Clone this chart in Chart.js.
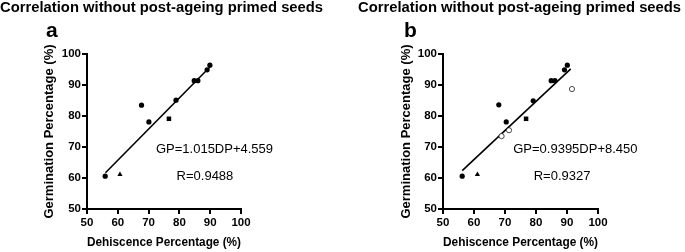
<!DOCTYPE html>
<html><head><meta charset="utf-8">
<script src="https://cdn.jsdelivr.net/npm/chart.js@4/dist/chart.umd.min.js"></script>
<style>
html,body{margin:0;padding:0;background:#fff;}
#wrap{position:relative;width:685px;height:252px;overflow:hidden;}
.panel{position:absolute;top:0;height:252px;}
</style></head><body>
<div id="wrap">
<div class="panel" style="left:0;width:342px"><canvas id="ca" width="342" height="252"></canvas></div>
<div class="panel" style="left:342px;width:343px"><canvas id="cb" width="343" height="252"></canvas></div>
</div>
<script>
// ---------- data ----------
const chartTitle = 'Correlation without post-ageing primed seeds';
const xAxisTitle = 'Dehiscence Percentage (%)';
const yAxisTitle = 'Germination Percentage (%)';
const tickMin = 50, tickMax = 100, tickStep = 10;

// Panel a
const aLetter = 'a';
const aCircleX = [55.9, 67.7, 70.1, 78.9, 84.8, 86.0, 89.0, 89.9];
const aCircleY = [60.6, 83.5, 78.1, 85.1, 91.4, 91.4, 94.9, 96.4];
const aSquareX = [76.6];
const aSquareY = [79.1];
const aTriangleX = [60.7];
const aTriangleY = [61.1];
const aFitX = [56.0, 89.9];
const aFitY = [61.7, 95.8];
const aEquation = 'GP=1.015DP+4.559';
const aR = 'R=0.9488';

// Panel b
const bLetter = 'b';
const bCircleX = [56.2, 68.0, 70.4, 79.1, 84.9, 86.1, 89.2, 90.1];
const bCircleY = [60.6, 83.6, 78.1, 84.9, 91.4, 91.4, 94.9, 96.4];
const bSquareX = [76.8];
const bSquareY = [79.1];
const bTriangleX = [61.1];
const bTriangleY = [61.1];
const bOpenX = [68.9, 71.3, 91.6];
const bOpenY = [73.5, 75.4, 88.7];
const bFitX = [56.2, 91.2];
const bFitY = [62.4, 95.2];
const bEquation = 'GP=0.9395DP+8.450';
const bR = 'R=0.9327';

// ---------- helpers ----------
const FONT = "'Liberation Sans', Arial, Helvetica, sans-serif";
const pts = (xs, ys) => xs.map((x, i) => ({x, y: ys[i]}));

const textPlugin = {
  id: 'panelText',
  afterDraw(chart, args, opts) {
    const ctx = chart.ctx;
    const xs = chart.scales.x, ys = chart.scales.y;
    ctx.save();
    ctx.fillStyle = '#000';
    ctx.textBaseline = 'middle';
    // main title
    ctx.font = 'bold 14.8px ' + FONT;
    ctx.textAlign = 'left';
    ctx.fillText(opts.title, opts.titleX, 8);
    // panel letter
    ctx.font = 'bold 21px ' + FONT;
    ctx.fillText(opts.letter, opts.letterX, 31);
    // annotations
    ctx.font = '13px ' + FONT;
    ctx.textAlign = 'center';
    opts.notes.forEach(n => {
      ctx.fillText(n.text, xs.getPixelForValue(n.x), ys.getPixelForValue(n.y));
    });
    ctx.restore();
  }
};

function makeChart(id, cfg) {
  const datasets = [
    { type: 'line', data: pts(cfg.fitX, cfg.fitY), showLine: true, borderColor: '#000',
      borderWidth: 1.6, pointRadius: 0, fill: false, order: 5 },
    { data: pts(cfg.circleX, cfg.circleY), pointStyle: 'circle', pointRadius: 2.6,
      pointBackgroundColor: '#000', pointBorderColor: '#000', pointBorderWidth: 0, order: 1 },
    { data: pts(cfg.squareX, cfg.squareY), pointStyle: 'rect', pointRadius: 3.2,
      pointBackgroundColor: '#000', pointBorderColor: '#000', pointBorderWidth: 0, order: 1 },
    { data: pts(cfg.triX, cfg.triY), pointStyle: 'triangle', pointRadius: 3,
      pointBackgroundColor: '#000', pointBorderColor: '#000', pointBorderWidth: 0, order: 1 },
  ];
  if (cfg.openX) {
    datasets.push({ data: pts(cfg.openX, cfg.openY), pointStyle: 'circle', pointRadius: 2.6,
      pointBackgroundColor: '#fff', pointBorderColor: '#000', pointBorderWidth: 0.7, order: 0 });
  }
  const axisCommon = {
    type: 'linear', min: tickMin, max: tickMax,
    border: { display: true, color: '#000', width: 2 },
    grid: { display: true, drawOnChartArea: false, drawTicks: true, tickLength: 5,
            color: '#000', lineWidth: 2 },
  };
  return new Chart(document.getElementById(id), {
    type: 'scatter',
    data: { datasets },
    plugins: [textPlugin],
    options: {
      responsive: false, animation: false, devicePixelRatio: 1,
      layout: { padding: { left: 0, top: 54, right: cfg.padRight, bottom: 0 } },
      plugins: {
        legend: { display: false }, tooltip: { enabled: false },
        panelText: { title: chartTitle, titleX: cfg.titleX, letter: cfg.letter, letterX: cfg.letterX,
          notes: cfg.notes }
      },
      scales: {
        x: Object.assign({}, axisCommon, {
          ticks: { stepSize: tickStep, padding: 2, color: '#000', font: { family: FONT, size: 11.5, weight: 'bold' }, maxRotation: 0 },
          title: { display: true, text: xAxisTitle, color: '#000', font: { family: FONT, size: 13, weight: 'bold' },
                   padding: { top: 0, bottom: 2 } },
          afterFit: s => { s.height = 43; }
        }),
        y: Object.assign({}, axisCommon, {
          ticks: { stepSize: tickStep, padding: 1, color: '#000', font: { family: FONT, size: 11.5, weight: 'bold' } },
          title: { display: true, text: yAxisTitle, color: '#000', font: { family: FONT, size: 13, weight: 'bold' },
                   padding: { top: cfg.yTitlePad, bottom: 0 } },
          afterFit: s => { s.width = cfg.yWidth; }
        })
      }
    }
  });
}

makeChart('ca', {
  circleX: aCircleX, circleY: aCircleY, squareX: aSquareX, squareY: aSquareY,
  triX: aTriangleX, triY: aTriangleY, fitX: aFitX, fitY: aFitY,
  padRight: 101, yWidth: 87, yTitlePad: 42, titleX: 0, letter: aLetter, letterX: 46,
  notes: [{ text: aEquation, x: 91.4, y: 69.1 }, { text: aR, x: 88.3, y: 60.6 }]
});
makeChart('cb', {
  circleX: bCircleX, circleY: bCircleY, squareX: bSquareX, squareY: bSquareY,
  triX: bTriangleX, triY: bTriangleY, openX: bOpenX, openY: bOpenY, fitX: bFitX, fitY: bFitY,
  padRight: 87, yWidth: 101, yTitlePad: 57, titleX: 16, letter: bLetter, letterX: 62,
  notes: [{ text: bEquation, x: 92.7, y: 69.1 }, { text: bR, x: 88.4, y: 60.6 }]
});
</script>
</body></html>
